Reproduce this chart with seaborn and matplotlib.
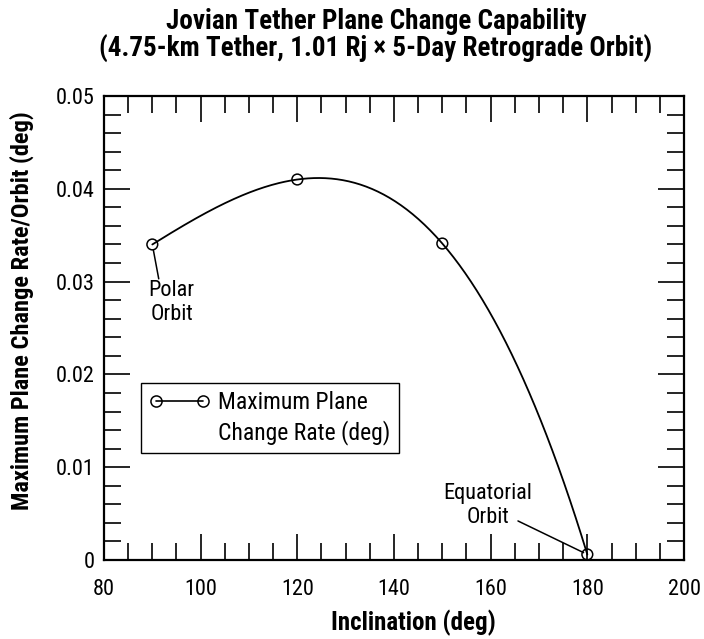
import numpy as np
import pandas as pd
import matplotlib
matplotlib.use("Agg")
import matplotlib.pyplot as plt
from matplotlib.ticker import MultipleLocator, FixedLocator
from matplotlib.lines import Line2D
from matplotlib import font_manager
import seaborn as sns

# ---- data ----
inclination = [90, 120, 150, 180]
plane_change_rate = [0.0340, 0.0410, 0.0341, 0.0006]
x_ticks = [80, 100, 120, 140, 160, 180, 200]
y_ticks = [0, 0.01, 0.02, 0.03, 0.04, 0.05]
y_tick_labels = ["0", "0.01", "0.02", "0.03", "0.04", "0.05"]
x_tick_labels = ["80", "100", "120", "140", "160", "180", "200"]

title = "Jovian Tether Plane Change Capability\n(4.75-km Tether, 1.01 Rj \u00d7 5-Day Retrograde Orbit)"
xlabel = "Inclination (deg)"
ylabel = "Maximum Plane Change Rate/Orbit (deg)"
legend_lines = ["Maximum Plane", "Change Rate (deg)"]

sns.set_theme(style="ticks")
names = {f.name for f in font_manager.fontManager.ttflist}
cands = ["Roboto Condensed", "Liberation Sans Narrow", "Arial Narrow",
         "Open Sans Condensed", "Roboto", "Liberation Sans"]
avail = [c for c in cands if c in names]
condensed = bool(avail) and avail[0] in ("Roboto Condensed", "Liberation Sans Narrow",
                                         "Arial Narrow", "Open Sans Condensed")
FAM = avail + ["DejaVu Sans"]
plt.rcParams["font.family"] = FAM
for k in ["text.color", "axes.labelcolor", "xtick.color", "ytick.color", "axes.edgecolor"]:
    plt.rcParams[k] = "black"

sc = 1.0 if condensed else 0.88  # shrink if no condensed face

df = pd.DataFrame({"inc": inclination, "rate": plane_change_rate})

# smooth curve: cubic through the four measured points
coef = np.polyfit(df["inc"], df["rate"], 3)
xs = np.linspace(min(inclination), max(inclination), 300)
curve = pd.DataFrame({"inc": xs, "rate": np.polyval(coef, xs)})

fig = plt.figure(figsize=(7.04, 6.39), dpi=100)
ax = fig.add_axes([0.1477, 0.1236, 0.8239, 0.7262])

sns.lineplot(data=curve, x="inc", y="rate", ax=ax, color="black", lw=1.3)
sns.scatterplot(data=df, x="inc", y="rate", ax=ax, marker="o", s=60,
                facecolor="none", edgecolor="black", linewidth=1.1, zorder=5)

ax.set_xlim(80, 200)
ax.set_ylim(0, 0.05)
ax.xaxis.set_major_locator(FixedLocator(x_ticks))
ax.set_xticklabels(x_tick_labels)
ax.yaxis.set_major_locator(FixedLocator(y_ticks))
ax.set_yticklabels(y_tick_labels)
ax.xaxis.set_minor_locator(MultipleLocator(5))
ax.yaxis.set_minor_locator(MultipleLocator(0.002))

ax.tick_params(which="both", direction="in", top=True, right=True,
               colors="black", width=1.2, labelsize=16 * sc)
ax.tick_params(which="major", length=19)
ax.tick_params(which="minor", length=12)
ax.tick_params(axis="x", which="major", pad=14)
ax.tick_params(axis="y", which="major", pad=7)
for sp in ax.spines.values():
    sp.set_linewidth(1.6)
    sp.set_color("black")

ax.set_xlabel(xlabel, fontsize=18 * sc, fontweight="bold", va="top")
ax.set_ylabel(ylabel, fontsize=17.6 * sc, fontweight="bold")
ax.xaxis.set_label_coords(0.533, -0.108)
ax.yaxis.set_label_coords(-0.12, 0.538)

fig.suptitle(title, x=0.534, y=0.988, fontsize=19.5 * sc, fontweight="bold",
             va="top", linespacing=1.02)

# legend: marker line + two text lines
h1 = Line2D([], [], color="black", lw=1.2, marker="o", markersize=8,
            markerfacecolor="none", markeredgecolor="black", markeredgewidth=1.1)
h2 = Line2D([], [], color="none")
leg = ax.legend([h1, h2], legend_lines, loc="upper left",
                bbox_to_anchor=(0.063, 0.382), borderaxespad=0, numpoints=2,
                fontsize=17 * sc, frameon=True, fancybox=False, framealpha=1,
                edgecolor="black", handlelength=2.6, handletextpad=0.35,
                labelspacing=0.25, borderpad=0.35)
leg.get_frame().set_linewidth(1.0)

# annotations
ax.annotate("Polar\nOrbit", xy=(inclination[0], plane_change_rate[0]),
            xytext=(94.0, 0.0302), ha="center", va="top", fontsize=16 * sc,
            multialignment="center",
            arrowprops=dict(arrowstyle="-", color="black", lw=1.1, patchA=None,
                            relpos=(0.22, 1.02), shrinkA=0, shrinkB=4))
ax.annotate("Equatorial\nOrbit", xy=(inclination[3], plane_change_rate[3]),
            xytext=(159.4, 0.0083), ha="center", va="top", fontsize=16 * sc,
            multialignment="center",
            arrowprops=dict(arrowstyle="-", color="black", lw=1.1, patchA=None,
                            relpos=(0.84, 0.16), shrinkA=0, shrinkB=3))

fig.savefig("out.png", dpi=100, facecolor="white")
